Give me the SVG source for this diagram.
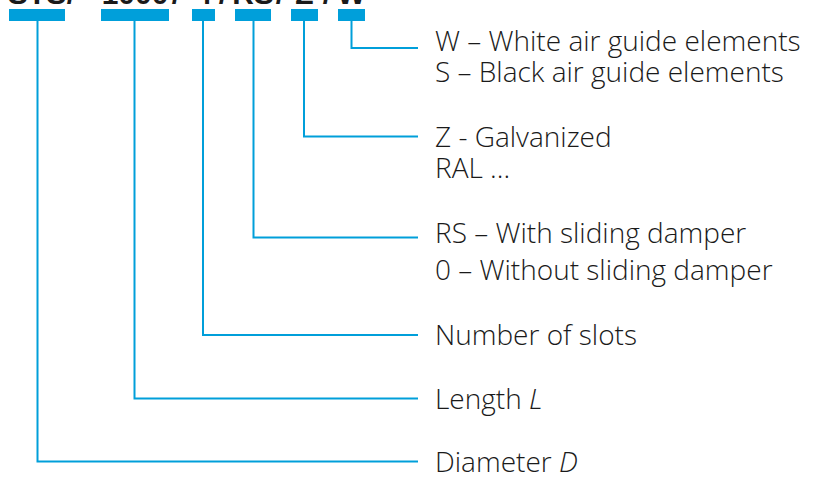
<svg xmlns="http://www.w3.org/2000/svg" width="814" height="477" viewBox="0 0 814 477">
<style>
.bar{fill:#009fda}
.ln{fill:none;stroke:#009fda;stroke-width:2}
.lbl{font-family:"Open Sans","Liberation Sans",sans-serif;font-weight:300;font-size:28px;fill:#1a1a1a}
.code{font-family:"Liberation Sans",Arial,sans-serif;font-weight:bold;font-size:30px;fill:#1a1a1a;text-anchor:middle}
</style>
<rect width="814" height="477" fill="#fff"/>
<g id="code">
<text class="code" x="37" y="3.5">STS</text>
<text class="code" x="71" y="3.5">/</text>
<text class="code" x="135" y="3.5">1000</text>
<text class="code" x="176" y="3.5">/</text>
<text class="code" x="203.5" y="3.5">4</text>
<text class="code" x="223" y="3.5">/</text>
<text class="code" x="253" y="3.5">RS</text>
<text class="code" x="280" y="3.5">/</text>
<text class="code" x="304.5" y="3.5">Z</text>
<text class="code" x="327" y="3.5">/</text>
<text class="code" x="351.5" y="3.5">W</text>
</g>
<g id="bars">
<rect class="bar" x="9" y="9" width="56" height="12"/>
<rect class="bar" x="101" y="9" width="68" height="12"/>
<rect class="bar" x="192" y="9" width="23" height="12"/>
<rect class="bar" x="235" y="9" width="36" height="12"/>
<rect class="bar" x="291" y="9" width="27" height="12"/>
<rect class="bar" x="338" y="9" width="27" height="12"/>
</g>
<g id="connectors">
<polyline class="ln" points="351.5,21 351.5,48 418,48"/>
<polyline class="ln" points="304,21 304,136.5 418,136.5"/>
<polyline class="ln" points="253.5,21 253.5,237.5 418,237.5"/>
<polyline class="ln" points="203,21 203,335 418,335"/>
<polyline class="ln" points="134.5,21 134.5,398.5 418,398.5"/>
<polyline class="ln" points="37.5,21 37.5,461.5 418,461.5"/>
</g>
<g id="colour">
<text class="lbl" x="435" y="51">W – White air guide elements</text>
<text class="lbl" x="435" y="82">S – Black air guide elements</text>
</g>
<g id="finish">
<text class="lbl" x="435" y="147">Z - Galvanized</text>
<text class="lbl" x="435" y="178">RAL ...</text>
</g>
<g id="damper">
<text class="lbl" x="435" y="243">RS – With sliding damper</text>
<text class="lbl" x="435" y="279.5">0 – Without sliding damper</text>
</g>
<g id="slots">
<text class="lbl" x="435" y="345">Number of slots</text>
</g>
<g id="length">
<text class="lbl" x="435" y="408.5">Length <tspan font-style="italic">L</tspan></text>
</g>
<g id="diameter">
<text class="lbl" x="435" y="471.5">Diameter <tspan font-style="italic">D</tspan></text>
</g>
</svg>
